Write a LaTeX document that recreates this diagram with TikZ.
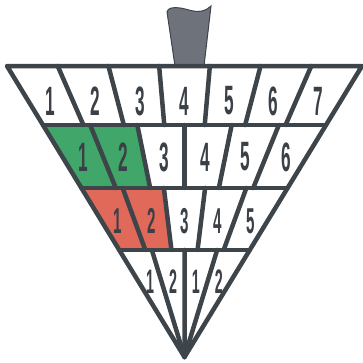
\documentclass[tikz,border=0pt]{standalone}
\usepackage{fontspec}
\setsansfont{Liberation Sans}
\usetikzlibrary{calc}

\definecolor{rimgray}{HTML}{3D444A}
\definecolor{inkgray}{HTML}{3A4046}
\definecolor{stemgray}{HTML}{6E737B}
\definecolor{leafgreen}{HTML}{40A66A}
\definecolor{clayred}{HTML}{E0695A}

\begin{document}
\begin{tikzpicture}[
    x=1pt, y=-1pt,
    rim/.style={draw=rimgray,line width=4.5pt,line join=round,line cap=round},
    stem/.style={fill=stemgray,draw=rimgray,line width=1pt},
    greenfield/.style={fill=leafgreen},
    redfield/.style={fill=clayred},
    digit/.style={text=inkgray,inner sep=0pt}
]

\useasboundingbox (0,0) rectangle (363,362);

% tip and top corners
\coordinate (apex) at (184.5,357);
\coordinate (L0) at (7,66);
\coordinate (R0) at (362,66);

% row lines
\coordinate (L1) at ($(apex)!0.797!(L0)$);
\coordinate (R1) at ($(apex)!0.797!(R0)$);
\coordinate (L2) at ($(apex)!0.581!(L0)$);
\coordinate (R2) at ($(apex)!0.581!(R0)$);
\coordinate (L3) at ($(apex)!0.368!(L0)$);
\coordinate (R3) at ($(apex)!0.368!(R0)$);

% handle
\filldraw[stem] (175,66) -- (167,12) .. controls (168,8) and (172,7) .. (180,8)
    .. controls (188,9) and (195,13) .. (202,11) .. controls (206,10) and (209,8) .. (211,6)
    -- (204,66) -- cycle;

% coloured cells
\fill[greenfield] (L1) -- ($(L1)!2/6!(R1)$) -- ($(L2)!2/6!(R2)$) -- (L2) -- cycle;
\fill[redfield] (L2) -- ($(L2)!2/5!(R2)$) -- ($(L3)!2/5!(R3)$) -- (L3) -- cycle;

% outline and rows
\draw[rim] (L0) -- (R0) -- (apex) -- cycle;
\draw[rim] (L1) -- (R1);
\draw[rim] (L2) -- (R2);
\draw[rim] (L3) -- (R3);

% dividers
\foreach \n/\k/\m in {7/0/1,6/1/2,5/2/3}
  \foreach \i in {1,...,\numexpr\n-1\relax}
    \draw[rim] ($(L\k)!\i/\n!(R\k)$) -- ($(L\m)!\i/\n!(R\m)$);
\foreach \i in {1,2,3}
  \draw[rim] ($(L3)!\i/4!(R3)$) -- (apex);

% numbers
\foreach \n/\t/\sz in {7/0.880/41,6/0.687/41,5/0.467/36} {
  \coordinate (ml) at ($(apex)!\t!(L0)$);
  \coordinate (mr) at ($(apex)!\t!(R0)$);
  \foreach \i in {1,...,\n}
    \node[digit,font=\sffamily\bfseries\fontsize{\sz}{\sz}\selectfont] (n\n-\i)
      at ($(ml)!{(\i-0.5)/\n}!(mr)$) {\scalebox{0.42}[1]{\i}};
}
\coordinate (ml) at ($(apex)!0.258!(L0)$);
\coordinate (mr) at ($(apex)!0.258!(R0)$);
\foreach \i/\lbl in {1/1,2/2,3/1,4/2}
  \node[digit,font=\sffamily\bfseries\fontsize{34}{34}\selectfont] (n4-\i)
    at ($(ml)!{(\i-0.5)/4}!(mr)$) {\scalebox{0.42}[1]{\lbl}};

\end{tikzpicture}
\end{document}
